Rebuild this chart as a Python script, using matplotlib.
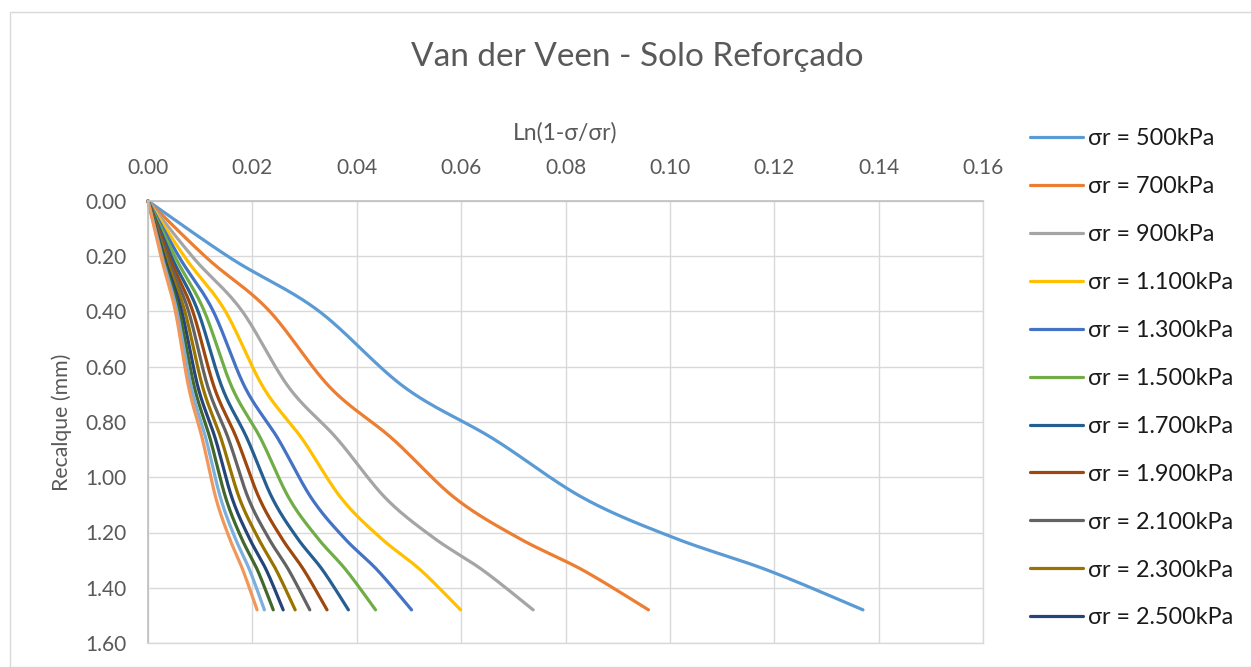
import numpy as np
import matplotlib
matplotlib.use("Agg")
import matplotlib.pyplot as plt
from matplotlib.patches import Rectangle

plt.rcParams['font.family'] = ['Lato', 'Noto Sans', 'DejaVu Sans']

# Settlement (mm) at each load step, shared by every series
recalque = [0.0, 0.21, 0.395, 0.675, 0.86, 1.075, 1.22, 1.337, 1.48]

# Ln(1 - sigma/sigma_r) for each assumed rupture stress
labels = ["σr = 500kPa", "σr = 700kPa", "σr = 900kPa", "σr = 1.100kPa",
          "σr = 1.300kPa", "σr = 1.500kPa", "σr = 1.700kPa", "σr = 1.900kPa",
          "σr = 2.100kPa", "σr = 2.300kPa", "σr = 2.500kPa", "σr = 2.700kPa",
          "σr = 2.900kPa", "σr = 3.100kPa"]

s500 = [0, 0.0161, 0.0325, 0.0492, 0.0661, 0.0834, 0.1009, 0.1188, 0.1370]
s700 = [0, 0.0115, 0.0231, 0.0349, 0.0468, 0.0588, 0.0710, 0.0834, 0.0959]
s900 = [0, 0.0089, 0.0179, 0.0270, 0.0362, 0.0455, 0.0548, 0.0642, 0.0738]
s1100 = [0, 0.0073, 0.0147, 0.0221, 0.0295, 0.0370, 0.0446, 0.0523, 0.0599]
s1300 = [0, 0.0062, 0.0124, 0.0186, 0.0249, 0.0313, 0.0376, 0.0440, 0.0505]
s1500 = [0, 0.0054, 0.0107, 0.0161, 0.0216, 0.0270, 0.0325, 0.0380, 0.0436]
s1700 = [0, 0.0047, 0.0095, 0.0142, 0.0190, 0.0238, 0.0286, 0.0335, 0.0384]
s1900 = [0, 0.0042, 0.0085, 0.0127, 0.0170, 0.0213, 0.0256, 0.0299, 0.0343]
s2100 = [0, 0.0038, 0.0077, 0.0115, 0.0154, 0.0192, 0.0231, 0.0270, 0.0310]
s2300 = [0, 0.0035, 0.0070, 0.0105, 0.0140, 0.0175, 0.0211, 0.0246, 0.0282]
s2500 = [0, 0.0032, 0.0064, 0.0096, 0.0129, 0.0161, 0.0194, 0.0227, 0.0259]
s2700 = [0, 0.0030, 0.0059, 0.0089, 0.0119, 0.0149, 0.0179, 0.0210, 0.0240]
s2900 = [0, 0.0028, 0.0055, 0.0083, 0.0111, 0.0139, 0.0167, 0.0195, 0.0223]
s3100 = [0, 0.0026, 0.0052, 0.0078, 0.0104, 0.0130, 0.0156, 0.0182, 0.0209]

series = [s500, s700, s900, s1100, s1300, s1500, s1700, s1900, s2100,
          s2300, s2500, s2700, s2900, s3100]

colors = ["#5B9BD5", "#ED7D31", "#A5A5A5", "#FFC000", "#4472C4", "#70AD47",
          "#255E91", "#9E480E", "#636363", "#997300", "#264478", "#43682B",
          "#7CAFDD", "#F1975A"]

xticks = [0.00, 0.02, 0.04, 0.06, 0.08, 0.10, 0.12, 0.14, 0.16]
yticks = [0.0, 0.2, 0.4, 0.6, 0.8, 1.0, 1.2, 1.4, 1.6]

W, H = 1251, 667
fig = plt.figure(figsize=(W / 100, H / 100), dpi=100)

# chart frame
fig.patches.append(Rectangle((10 / W, 0), 1.2, 1 - 12 / H, transform=fig.transFigure,
                             fill=False, edgecolor="#D9D9D9", linewidth=1.0))

ax = fig.add_axes([148 / W, 1 - 643 / H, (983 - 148) / W, (643 - 201) / H])
ax.set_xlim(0, 0.16)
ax.set_ylim(1.6, 0)
ax.xaxis.tick_top()
ax.set_xticks(xticks)
ax.set_yticks(yticks)
ax.set_xticklabels([f"{v:.2f}" for v in xticks])
ax.set_yticklabels([f"{v:.2f}" for v in yticks])
ax.tick_params(axis='both', length=0, labelsize=15, labelcolor="#595959")
ax.tick_params(axis='x', pad=16.5)
ax.tick_params(axis='y', pad=15.5)
ax.grid(True, color="#D9D9D9", linewidth=1.0)
ax.set_axisbelow(True)
for side in ("top", "left"):
    ax.spines[side].set_color("#BFBFBF")
    ax.spines[side].set_linewidth(1.2)
for side in ("bottom", "right"):
    ax.spines[side].set_color("#D9D9D9")
    ax.spines[side].set_linewidth(1.0)


def smooth(xs, ys, n=30):
    """Bezier smoothing through the points, built in display space."""
    pts = ax.transData.transform(np.column_stack([xs, ys]))
    out = [pts[0]]
    m = len(pts)
    for i in range(m - 1):
        p0 = pts[i - 1] if i > 0 else pts[i]
        p1 = pts[i]
        p2 = pts[i + 1]
        p3 = pts[i + 2] if i + 2 < m else pts[i + 1]
        c1 = p1 + (p2 - p0) / 6.0
        c2 = p2 - (p3 - p1) / 6.0
        t = np.linspace(0, 1, n)[1:, None]
        seg = ((1 - t) ** 3) * p1 + 3 * ((1 - t) ** 2) * t * c1 + 3 * (1 - t) * t ** 2 * c2 + t ** 3 * p2
        out.extend(seg)
    out = np.array(out)
    data = ax.transData.inverted().transform(out)
    return data[:, 0], data[:, 1]


handles = []
for vals, col, lab in zip(series, colors, labels):
    sx, sy = smooth(vals, recalque)
    ln, = ax.plot(sx, sy, color=col, linewidth=2.3, label=lab,
                  solid_capstyle='round', clip_on=False)
    handles.append(ln)

fig.text(637 / W, 1 - 57 / H, "Van der Veen - Solo Reforçado", ha="center", va="center",
         fontsize=24, color="#595959")
fig.text(565.5 / W, 1 - 133 / H, "Ln(1-σ/σr)", ha="center", va="center",
         fontsize=16.5, color="#595959")
fig.text(62 / W, 1 - 422 / H, "Recalque (mm)", ha="center", va="center",
         rotation=90, fontsize=15.3, color="#595959")

leg = fig.legend(handles=handles[:11], labels=labels[:11], loc="upper left",
                 bbox_to_anchor=(1030 / W, 1 - 128 / H), frameon=False,
                 fontsize=16.8, handlelength=2.27, handletextpad=0.21,
                 labelspacing=1.155, borderaxespad=0, borderpad=0)
for t in leg.get_texts():
    t.set_color("#1a1a1a")

fig.savefig("out.png", dpi=100)
